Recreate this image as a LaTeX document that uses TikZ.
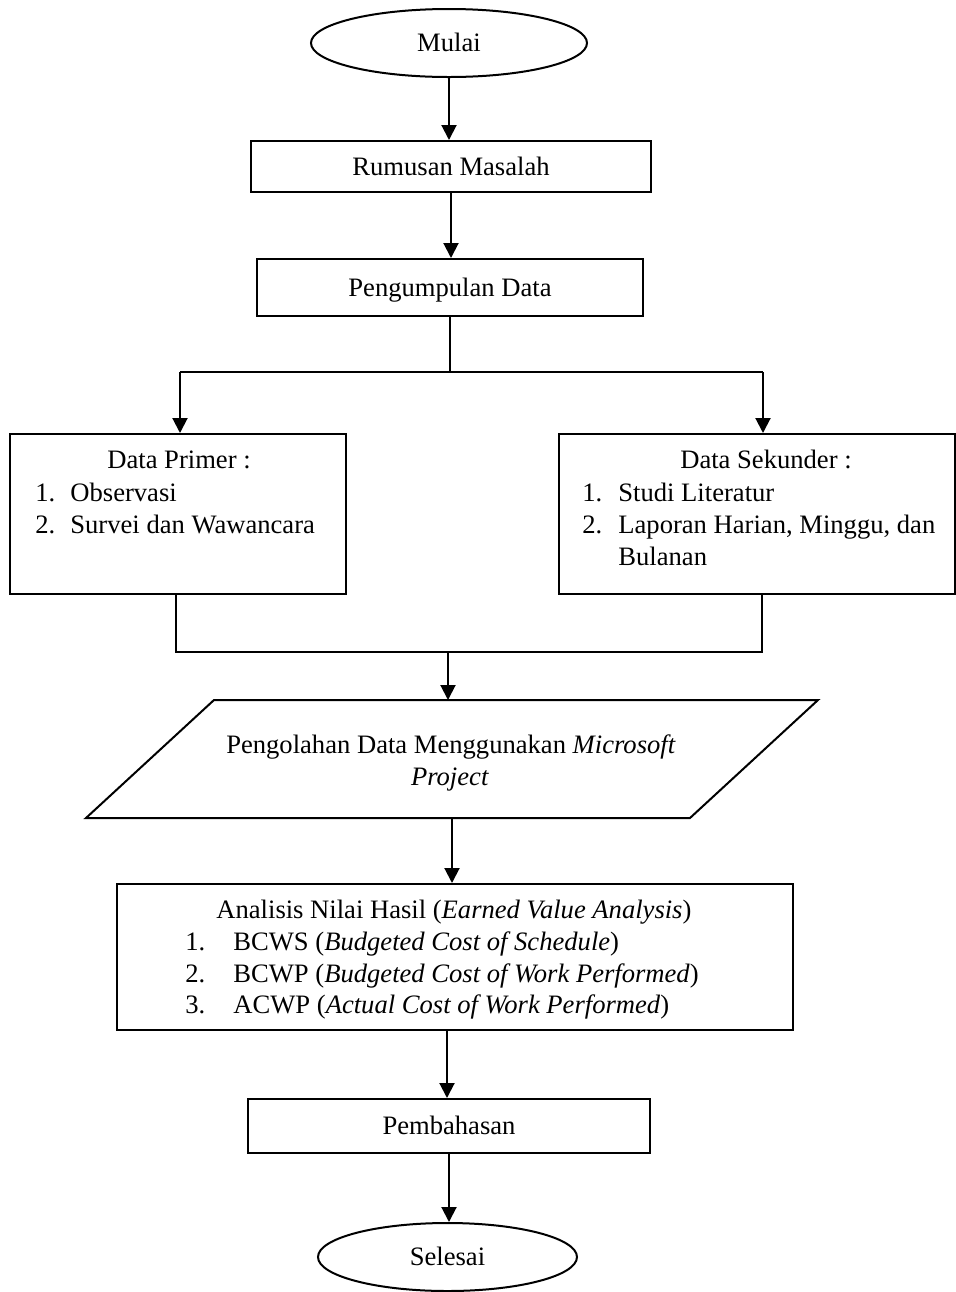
\documentclass[tikz,border=0pt]{standalone}
\usepackage{fontspec}
\setmainfont{Liberation Serif}
\usetikzlibrary{shapes.geometric,arrows.meta}
\begin{document}
\begin{tikzpicture}[x=0.5pt,y=-0.5pt,
  every node/.style={font=\fontsize{13.3}{16}\selectfont, inner sep=0pt},
  box/.style={draw, line width=1pt, rectangle, text height=8.8pt, text depth=0pt},
  term/.style={draw, line width=1pt, ellipse, text height=8.8pt, text depth=0pt},
  txt/.style={anchor=base},
  txtl/.style={anchor=base west},
  line/.style={line width=1pt},
  arr/.style={line width=1pt, -{Triangle[width=7.5pt,length=7.5pt]}}]
\useasboundingbox (0,0) rectangle (956,1292);

% terminals and boxes
\node[term, minimum width=138pt, minimum height=34pt] (mulai) at (449,43) {Mulai};
\node[box, minimum width=200pt, minimum height=25.5pt] (rumusan) at (451,166.5) {Rumusan Masalah};
\node[box, minimum width=193pt, minimum height=28.5pt] (peng) at (450,287.5) {Pengumpulan Data};
\node[box, minimum width=168pt, minimum height=80pt] (primer) at (178,514) {};
\node[box, minimum width=198pt, minimum height=80pt] (sekunder) at (757,514) {};
\node[box, minimum width=338pt, minimum height=73pt] (anal) at (455,957) {};
\node[box, minimum width=201pt, minimum height=27pt] (pemb) at (449,1126) {Pembahasan};
\node[term, minimum width=129.5pt, minimum height=34pt] (selesai) at (447.5,1257) {Selesai};

% Data Primer text
\node[txt] (primerT) at (179,468) {Data Primer :};
\node[txtl] (p1n) at (35,501) {1.};
\node[txtl] (p1) at (70,501) {Observasi};
\node[txtl] (p2n) at (35,533) {2.};
\node[txtl] (p2) at (70,533) {Survei dan Wawancara};

% Data Sekunder text
\node[txt] (sekT) at (766,468) {Data Sekunder :};
\node[txtl] (s1n) at (582,501) {1.};
\node[txtl] (s1) at (618,501) {Studi Literatur};
\node[txtl] (s2n) at (582,533) {2.};
\node[txtl] (s2) at (618,533) {Laporan Harian, Minggu, dan};
\node[txtl] (s2b) at (618,565) {Bulanan};

% parallelogram
\coordinate (pTL) at (214,700);
\coordinate (pTR) at (818,700);
\coordinate (pBR) at (690,818);
\coordinate (pBL) at (86,818);
\draw[line] (pTL) -- (pTR) -- (pBR) -- (pBL) -- cycle;
\coordinate (procTop) at (449,700);
\coordinate (procBot) at (452,818);
\node[txt] (proc1) at (451,753) {Pengolahan Data Menggunakan \textit{Microsoft}};
\node[txt] (proc2) at (450,785) {\textit{Project}};

% Analisis text
\node[txtl] (a0) at (216,918) {Analisis Nilai Hasil (\textit{Earned Value Analysis})};
\node[txtl] (a1n) at (185,950) {1.};
\node[txtl] (a1) at (233,950) {BCWS (\textit{Budgeted Cost of Schedule})};
\node[txtl] (a2n) at (185,982) {2.};
\node[txtl] (a2) at (233,982) {BCWP (\textit{Budgeted Cost of Work Performed})};
\node[txtl] (a3n) at (185,1013) {3.};
\node[txtl] (a3) at (233,1013) {ACWP (\textit{Actual Cost of Work Performed})};

% connectors
\draw[arr] (mulai.south) -- (mulai.south |- rumusan.north);
\draw[arr] (rumusan.south) -- (rumusan.south |- peng.north);
\coordinate (split) at (450,372);
\coordinate (sL) at (180,372);
\coordinate (sR) at (763,372);
\draw[line] (peng.south) -- (split);
\draw[line] (sL) -- (sR);
\draw[arr] (sL) -- (sL |- primer.north);
\draw[arr] (sR) -- (sR |- sekunder.north);
\coordinate (mL) at (176,652);
\coordinate (mR) at (762,652);
\coordinate (mM) at (448,652);
\draw[line] (primer.south -| mL) -- (mL) -- (mR) -- (sekunder.south -| mR);
\draw[arr] (mM) -- (mM |- procTop);
\draw[arr] (procBot) -- (procBot |- anal.north);
\draw[arr] ([xshift=-4pt]anal.south) -- ([xshift=-4pt]anal.south |- pemb.north);
\draw[arr] (pemb.south) -- (pemb.south |- selesai.north);
\end{tikzpicture}
\end{document}
